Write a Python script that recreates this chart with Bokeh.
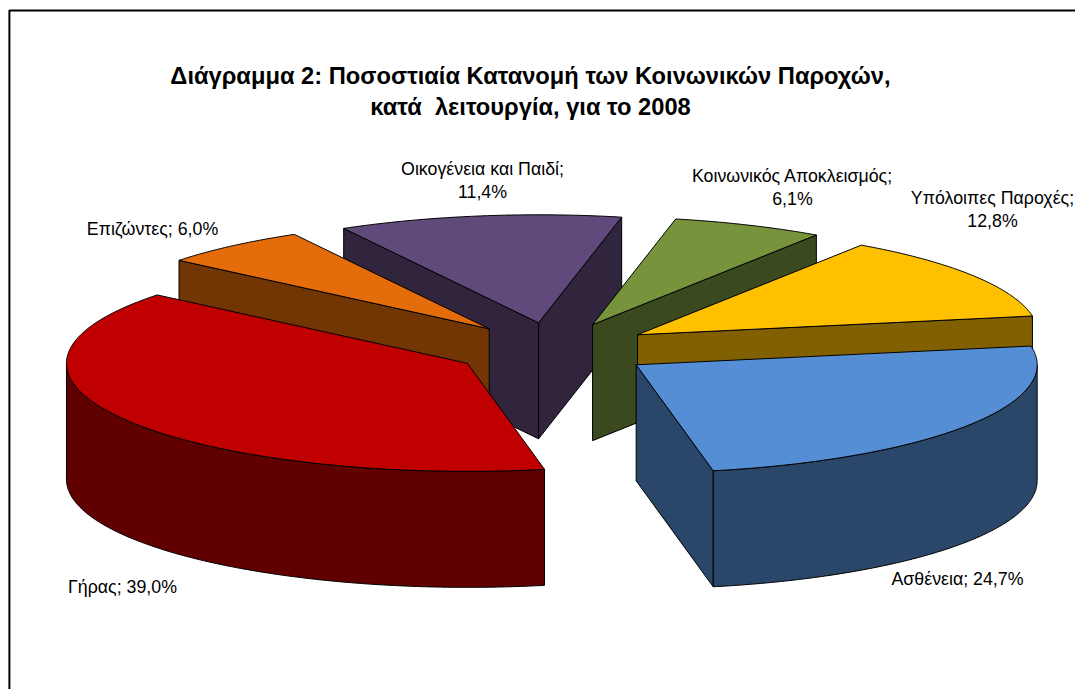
import numpy as np
from bokeh.core.properties import value
from bokeh.embed import file_html
from bokeh.models import Range1d
from bokeh.plotting import figure
from bokeh.resources import INLINE

# Data
categories = ["Ασθένεια", "Γήρας", "Επιζώντες", "Οικογένεια και Παιδί",
              "Κοινωνικός Αποκλεισμός", "Υπόλοιπες Παροχές"]
shares = [24.7, 39.0, 6.0, 11.4, 6.1, 12.8]
top_colors = ["#558ED5", "#C00000", "#E46C0A", "#604A7B", "#77933C", "#FFC000"]
side_colors = ["#2A4669", "#600000", "#723605", "#30253D", "#3B491E", "#806000"]
title_lines = ["Διάγραμμα 2: Ποσοστιαία Κατανομή των Κοινωνικών Παροχών,",
               "κατά\u00a0 λειτουργία, για το 2008"]


def share_label(i):
    return f"{shares[i]:.1f}%".replace(".", ",")


# Layout of the projected pie (picture pixels)
CX, CY = 553.0, 349.0
RX, RY = 401.0, 108.0
DEPTH = 116.0
EXPLODE = 0.25
START_ANGLE = 80.0

p = figure(width=1075, height=689, output_backend="svg", toolbar_location=None,
           x_range=Range1d(0, 1075), y_range=Range1d(689, 0),
           min_border=0, outline_line_color=None, background_fill_color="white",
           border_fill_color="white")
p.axis.visible = False
p.grid.visible = False


def arc_points(cx, cy, a0, a1):
    n = max(2, int(abs(a1 - a0) * 2) + 2)
    t = np.radians(np.linspace(a0, a1, n))
    return cx + RX * np.sin(t), cy - RY * np.cos(t)


edges = np.cumsum([0.0] + shares) / sum(shares) * 360.0 + START_ANGLE
wedges = []
for i in range(len(shares)):
    a0, a1 = edges[i], edges[i + 1]
    mid = np.radians((a0 + a1) / 2)
    wedges.append((-np.cos(mid), i, a0, a1))
wedges.sort()  # painter's order: back slices first

for _, i, a0, a1 in wedges:
    mid = np.radians((a0 + a1) / 2)
    cx = CX + EXPLODE * RX * np.sin(mid)
    cy = CY - EXPLODE * RY * np.cos(mid)
    xs, ys, = [], []
    # radial walls that face the viewer
    for angle, sign in ((a0, -1), (a1, 1)):
        if sign * np.sin(np.radians(angle)) > 0:
            ex, ey = arc_points(cx, cy, angle, angle)
            ex, ey = ex[0], ey[0]
            xs.append([cx, ex, ex, cx])
            ys.append([cy, ey, ey + DEPTH, cy + DEPTH])
    # outer wall: the part of the arc in the near half
    for k in (0, 1):
        lo, hi = max(a0, 90 + 360 * k), min(a1, 270 + 360 * k)
        if lo < hi:
            ax, ay = arc_points(cx, cy, lo, hi)
            xs.append(list(ax) + list(ax[::-1]))
            ys.append(list(ay) + list((ay + DEPTH)[::-1]))
    if xs:
        p.patches(xs, ys, fill_color=side_colors[i], line_color="#000000", line_width=1)
    ax, ay = arc_points(cx, cy, a0, a1)
    p.patch([cx] + list(ax), [cy] + list(ay), fill_color=top_colors[i],
            line_color="#000000", line_width=1)

# Frame, open on the right and at the bottom
p.line([8.9, 8.9, 1075], [689, 10, 10], line_color="#000000", line_width=2)

# Title
p.text([530, 530], [75, 106.5], text=title_lines, text_align="center", text_baseline="middle",
       text_font=value("Liberation Sans"), text_font_style="bold", text_font_size="23.7px",
       text_color="#000000")

# Slice labels
label_x = [957, 122, 152, 482, 482, 792, 792, 992, 992]
label_y = [578, 586, 228, 168, 191, 175, 198, 197, 220]
label_text = [
    f"{categories[0]}; {share_label(0)}",
    f"{categories[1]}; {share_label(1)}",
    f"{categories[2]}; {share_label(2)}",
    f"{categories[3]};", share_label(3),
    f"{categories[4]};", share_label(4),
    f"{categories[5]};", share_label(5),
]
p.text(label_x, label_y, text=label_text, text_align="center", text_baseline="middle",
       text_font=value("Liberation Sans"), text_font_size="17.8px", text_color="#000000")

open("out.html", "w").write(file_html(p, INLINE))
